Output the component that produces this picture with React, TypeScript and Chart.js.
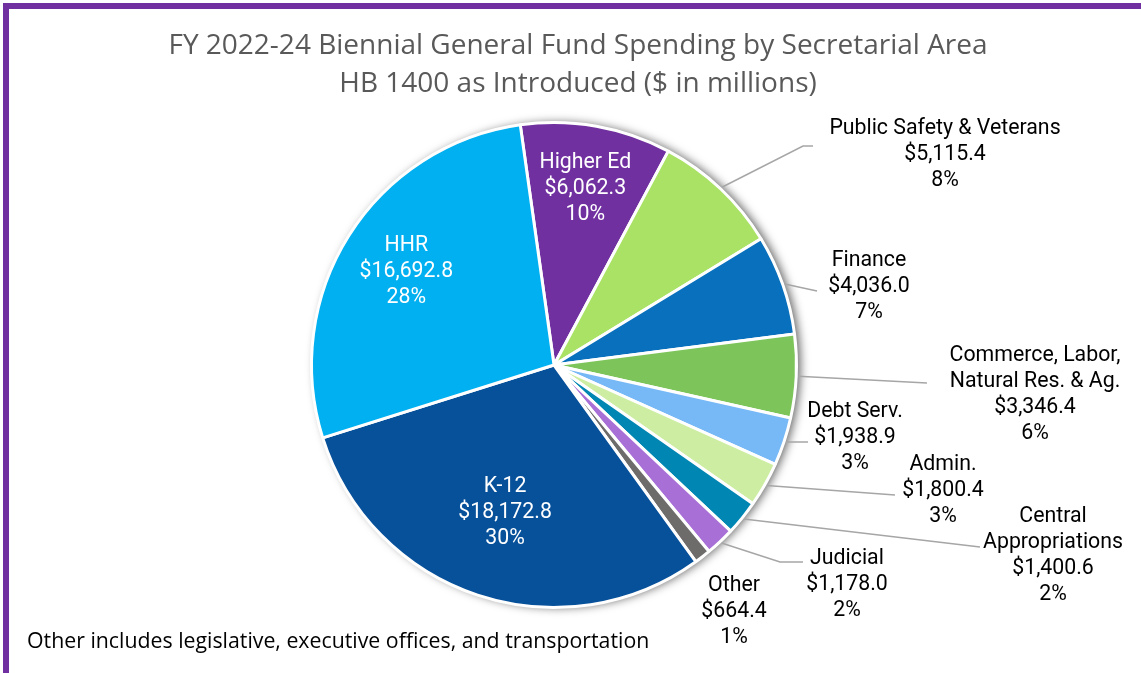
import React, { useEffect, useRef } from "react";
import { Chart, registerables } from "chart.js";

Chart.register(...registerables);

const categories: string[][] = [
  ["Higher Ed"],
  ["Public Safety & Veterans"],
  ["Finance"],
  ["Commerce, Labor,", "Natural Res. & Ag."],
  ["Debt Serv."],
  ["Admin."],
  ["Central", "Appropriations"],
  ["Judicial"],
  ["Other"],
  ["K-12"],
  ["HHR"],
];
const spending: number[] = [6062.3, 5115.4, 4036.0, 3346.4, 1938.9, 1800.4, 1400.6, 1178.0, 664.4, 18172.8, 16692.8];
const colors: string[] = ["#7030A0", "#A9E265", "#0870BC", "#7DC55A", "#77B8F6", "#CDEEA2", "#0086B2", "#A870D6", "#6E6B6B", "#07509A", "#00B0F0"];

const titleLines: string[] = ["FY 2022-24 Biennial General Fund Spending by Secretarial Area", "HB 1400 as Introduced ($ in millions)"];
const footnote = "Other includes legislative, executive offices, and transportation";

// label placement (layout only): inside labels use a radius fraction; outside labels use offsets from the pie centre
type Lay = { inside?: number; lx?: number; ly?: number; elbow?: [number, number]; end?: [number, number] };
const labelLayout: Lay[] = [
  { inside: 0.74 },
  { lx: 391, ly: -236, elbow: [249, -219], end: [259, -219] },
  { lx: 315, ly: -104, end: [263, -74] },
  { lx: 481, ly: -9, end: [373, 18] },
  { lx: 301, ly: 47, end: [254, 77] },
  { lx: 389, ly: 100, end: [341, 130] },
  { lx: 499, ly: 152, end: [426, 182] },
  { lx: 293, ly: 194, elbow: [226, 197], end: [249, 197] },
  { lx: 180, ly: 221 },
  { inside: 0.64 },
  { inside: 0.72 },
];

const W = 1141;
const H = 673;
const LABEL_FONT = "21.3px Roboto";
const LINE_H = 26;

const fmt = (v: number) =>
  "$" + v.toLocaleString("en-US", { minimumFractionDigits: 1, maximumFractionDigits: 1 });

const piePlugin = {
  id: "pieExtras",
  beforeDatasetsDraw(chart: any) {
    const ctx = chart.ctx;
    const arc = chart.getDatasetMeta(0).data[0] as any;
    ctx.save();
    ctx.shadowColor = "rgba(0,0,0,0.6)";
    ctx.shadowBlur = 10;
    ctx.shadowOffsetX = 4;
    ctx.shadowOffsetY = 0;
    ctx.beginPath();
    ctx.arc(arc.x, arc.y, arc.outerRadius, 0, Math.PI * 2);
    ctx.fillStyle = "#ffffff";
    ctx.fill();
    ctx.restore();
  },
  afterDatasetsDraw(chart: any) {
    const ctx = chart.ctx;
    const meta = chart.getDatasetMeta(0);
    const total = spending.reduce((a, b) => a + b, 0);
    ctx.save();
    ctx.font = LABEL_FONT;
    ctx.textAlign = "center";
    ctx.textBaseline = "middle";
    meta.data.forEach((el: any, i: number) => {
      const lay = labelLayout[i];
      const { x, y, startAngle, endAngle, outerRadius } = el;
      const mid = (startAngle + endAngle) / 2;
      const lines = [...categories[i], fmt(spending[i]), Math.round((spending[i] / total) * 100) + "%"];
      let cx: number, top: number;
      if (lay.inside !== undefined) {
        const r = outerRadius * lay.inside;
        cx = x + Math.cos(mid) * r;
        const cy = y + Math.sin(mid) * r;
        top = cy - ((lines.length - 1) * LINE_H) / 2;
        ctx.fillStyle = "#ffffff";
      } else {
        cx = x + (lay.lx as number);
        top = y + (lay.ly as number);
        ctx.fillStyle = "#000000";
        if (lay.end) {
          ctx.save();
          ctx.strokeStyle = "#A6A6A6";
          ctx.lineWidth = 1.5;
          ctx.beginPath();
          ctx.moveTo(x + Math.cos(mid) * (outerRadius + 2), y + Math.sin(mid) * (outerRadius + 2));
          if (lay.elbow) ctx.lineTo(x + lay.elbow[0], y + lay.elbow[1]);
          ctx.lineTo(x + lay.end[0], y + lay.end[1]);
          ctx.stroke();
          ctx.restore();
        }
      }
      lines.forEach((t, k) => ctx.fillText(t, cx, top + k * LINE_H));
    });
    ctx.restore();

    // title
    ctx.save();
    ctx.fillStyle = "#595959";
    ctx.font = "28px 'Open Sans'";
    ctx.textAlign = "center";
    ctx.textBaseline = "middle";
    titleLines.forEach((t, k) => ctx.fillText(t, 578, 46 + k * 38));
    // footnote
    ctx.fillStyle = "#000000";
    ctx.font = "21.3px 'Open Sans'";
    ctx.textAlign = "left";
    ctx.fillText(footnote, 27, 642);
    ctx.restore();
  },
};

export default function App() {
  const ref = useRef<HTMLCanvasElement | null>(null);
  useEffect(() => {
    if (!ref.current) return;
    const chart = new Chart(ref.current, {
      type: "pie",
      data: {
        labels: categories.map((c) => c.join(" ")),
        datasets: [
          {
            data: spending,
            backgroundColor: colors,
            borderColor: "#ffffff",
            borderWidth: 3,
          },
        ],
      },
      options: {
        responsive: false,
        animation: false,
        devicePixelRatio: 1,
        rotation: -8,
        layout: { padding: { left: 310, right: W - 798, top: 121, bottom: H - 609 } },
        plugins: {
          legend: { display: false },
          title: { display: false },
          tooltip: { enabled: false },
        },
      },
      plugins: [piePlugin],
    });
    return () => chart.destroy();
  }, []);
  return (
    <div style={{ position: "fixed", left: 0, top: 0, width: W, height: H, background: "#fff", overflow: "hidden" }}>
      <canvas ref={ref} width={W} height={H} style={{ position: "absolute", left: 0, top: 0 }} />
      <div
        style={{
          position: "absolute",
          left: 3,
          top: 3,
          width: W + 20,
          height: H + 20,
          borderLeft: "6px solid #7030A0",
          borderTop: "6px solid #7030A0",
          pointerEvents: "none",
        }}
      />
    </div>
  );
}
